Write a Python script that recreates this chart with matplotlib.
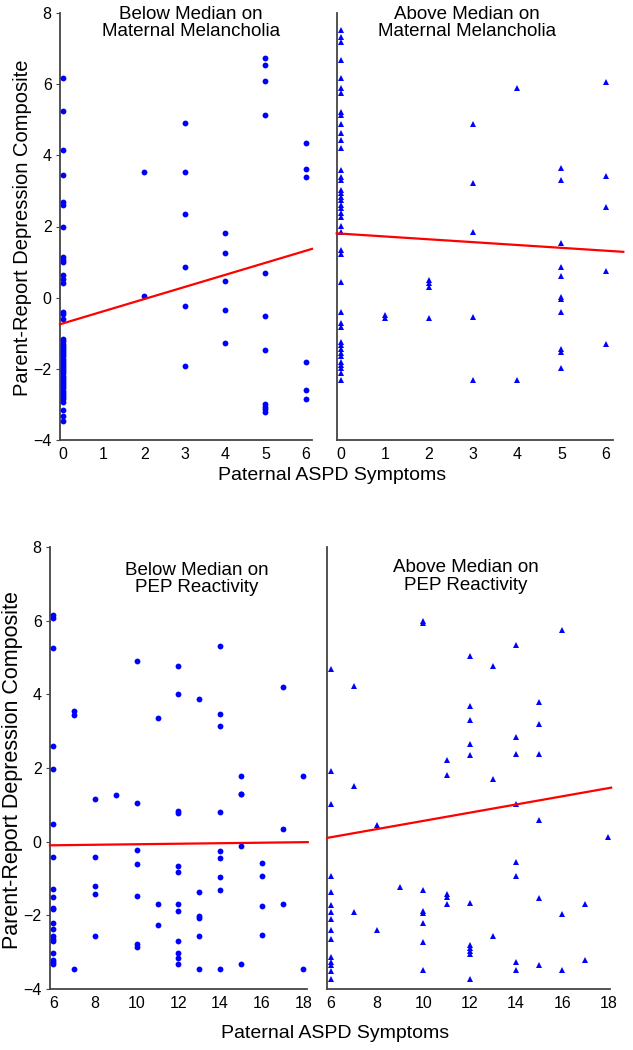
import matplotlib
matplotlib.use("Agg")
import matplotlib.pyplot as plt
import numpy as np

plt.rcParams['font.family'] = ['Liberation Sans', 'DejaVu Sans']

# top row: maternal melancholia split, x = paternal ASPD symptoms (0-6)
mm_lo_x = [0]*49 + [2, 2] + [3]*6 + [4]*5 + [5]*11 + [6]*6
mm_lo_y = [6.18, 5.25, 4.15, 3.45, 2.70, 2.60, 1.99, 1.13, 1.07, 1.01, 0.64, 0.52, 0.40,
           -0.40, -0.45, -0.59,
           -1.17, -1.23, -1.29, -1.35, -1.41, -1.47, -1.53, -1.59, -1.65, -1.71, -1.77,
           -1.83, -1.89, -1.95, -2.01, -2.07, -2.13, -2.19, -2.25, -2.31, -2.37, -2.43,
           -2.49, -2.55, -2.61, -2.67, -2.73, -2.79, -2.85, -2.92,
           -3.16, -3.32, -3.48,
           3.54, 0.05,
           4.91, 3.54, 2.34, 0.87, -0.24, -1.92,
           1.83, 1.25, 0.46, -0.36, -1.28,
           6.73, 6.54, 6.09, 5.13, 0.68, -0.52, -1.48, -3.00, -3.07, -3.14, -3.22,
           4.34, 3.61, 3.38, -1.80, -2.60, -2.85]

mm_hi_x = [0]*42 + [1, 1] + [2]*4 + [3]*5 + [4]*2 + [5]*11 + [6]*5
mm_hi_y = [7.52, 7.32, 7.19, 6.68, 6.16, 5.88, 5.74, 5.23, 5.13, 4.88, 4.64, 4.43, 4.20,
           3.59, 3.40, 3.31, 3.03, 2.93, 2.84, 2.74, 2.60, 2.51, 2.37, 2.27, 2.01, 1.85,
           1.34, 1.23, 0.45, -0.40, -0.72, -0.82, -1.24, -1.33, -1.56, -1.65, -1.80,
           -1.89, -1.98, -2.12, -2.31, -1.45,
           -0.50, -0.58,
           0.50, 0.40, 0.31, -0.58,
           4.88, 3.23, 1.84, -0.55, -2.31,
           5.88, -2.31,
           3.65, 3.31, 1.53, 0.85, 0.61, 0.03, -0.04, -0.41, -1.45, -1.52, -1.97,
           6.07, 3.43, 2.54, 0.76, -1.30]

# bottom row: PEP reactivity split, x = paternal ASPD symptoms (6-18)
pep_lo_x = ([6]*20 + [7]*3 + [8]*5 + [9] + [10]*7 + [11]*3 + [12]*12 + [13]*6
            + [14]*9 + [15]*5 + [16]*4 + [17]*3 + [18]*2)
pep_lo_y = [6.16, 6.07, 5.26, 2.61, 1.98, 0.48, -0.42, -1.28, -1.50, -1.79, -1.83,
            -2.21, -2.37, -2.57, -2.64, -2.69, -3.01, -3.21, -3.27, -3.32,
            3.56, 3.45, -3.46,
            1.15, -0.42, -1.20, -1.41, -2.55,
            1.26,
            4.91, 1.05, -0.22, -0.60, -1.47, -2.78, -2.85,
            3.37, -1.69, -2.25,
            4.76, 4.01, 0.84, 0.78, -0.65, -0.81, -1.69, -1.87, -2.71, -3.01, -3.16, -3.31,
            3.88, -1.38, -2.01, -2.06, -2.55, -3.46,
            5.30, 3.47, 3.13, 0.80, -0.25, -0.45, -0.96, -1.32, -3.46,
            1.77, 1.29, -0.11, -3.31, 1.29,
            -0.59, -0.92, -1.74, -2.53,
            4.19, 0.34, -1.69,
            1.77, -3.46]

pep_hi_x = ([6]*15 + [7]*3 + [8]*2 + [9] + [10]*8 + [11]*5 + [12]*11 + [13]*3
            + [14]*8 + [15]*6 + [16]*3 + [17]*2 + [18])
pep_hi_y = [4.69, 1.93, 1.03, -0.92, -1.37, -1.73, -1.91, -2.09, -2.39, -2.64, -3.14,
            -3.27, -3.36, -3.50, -3.72,
            4.23, 1.50, -1.91,
            0.45, -2.39,
            -1.23,
            6.00, 5.95, -1.31, -1.87, -1.94, -2.21, -2.73, -3.49,
            2.21, 1.82, -1.42, -1.49, -1.69,
            5.05, 3.69, 3.29, 2.66, 2.35, -1.67, -2.80, -2.89, -2.98, -3.04, -3.72,
            4.76, 1.70, -2.55,
            5.35, 2.84, 2.39, 1.03, -0.55, -0.92, -3.27, -3.49,
            3.78, 3.20, 2.39, 0.60, -1.52, -3.36,
            5.75, -1.97, -3.49,
            -1.69, -3.21,
            0.12]

# fitted lines: intercept, slope
fits = {'mm_lo': (-0.72, 0.34), 'mm_hi': (1.80, -0.08),
        'pep_lo': (-0.14, 0.007), 'pep_hi': (-0.545, 0.111)}

titles = ['Below Median on\nMaternal Melancholia', 'Above Median on\nMaternal Melancholia',
          'Below Median on\nPEP Reactivity', 'Above Median on\nPEP Reactivity']

W, H = 633, 1050
fig = plt.figure(figsize=(W/100, H/100), dpi=100)

def box(l, r, t, b):
    return [l/W, 1-b/H, (r-l)/W, (b-t)/H]

ax1 = fig.add_axes(box(60, 312, 13, 440))
ax2 = fig.add_axes(box(336.7, 612.7, 13, 440))
ax3 = fig.add_axes(box(50, 306.7, 547, 989))
ax4 = fig.add_axes(box(327.3, 610, 547, 989))

panels = [(ax1, mm_lo_x, mm_lo_y, 'o', 'mm_lo', (-0.08, 6.15), (-0.08, 6.15), (0.52, 1.017)),
          (ax2, mm_hi_x, mm_hi_y, '^', 'mm_hi', (-0.09, 6.16), (-0.09, 6.4), (0.471, 1.017)),
          (ax3, pep_lo_x, pep_lo_y, 'o', 'pep_lo', (5.84, 18.16), (5.84, 18.21), (0.573, 0.967)),
          (ax4, pep_hi_x, pep_hi_y, '^', 'pep_hi', (5.84, 18.07), (5.84, 18.12), (0.491, 0.972))]

for i, (ax, xs, ys, mk, key, xl, lx, tpos) in enumerate(panels):
    ms = 4.2 if mk == 'o' else 5
    ax.plot(xs, ys, mk, color='#0000ff', ms=ms, mew=0, zorder=3, clip_on=False)
    b0, b1 = fits[key]
    lx = np.array(lx)
    ax.plot(lx, b0 + b1*lx, color='#ff0000', lw=1.6, zorder=4, clip_on=False)
    ax.set_xlim(*xl)
    ax.set_ylim(-4, 8)
    for s in ['top', 'right']:
        ax.spines[s].set_visible(False)
    for s in ['left', 'bottom']:
        ax.spines[s].set_color('#444444')
        ax.spines[s].set_linewidth(1.3)
    if i < 2:
        ax.set_xticks(range(0, 7))
    else:
        ax.set_xticks(range(6, 19, 2))
    ax.set_yticks([-4, -2, 0, 2, 4, 6, 8])
    ax.tick_params(axis='x', length=0, labelsize=11.5, pad=5)
    ax.tick_params(axis='y', length=3, direction='out', labelsize=11.5, pad=3,
                   color='#444444')
    if i % 2 == 1:
        ax.tick_params(axis='y', length=0, labelleft=False)
    ax.text(tpos[0], tpos[1], titles[i], transform=ax.transAxes, ha='center', va='top',
            fontsize=13.5, linespacing=1.05)

fig.text(23/W, 1-228/H, 'Parent-Report Depression Composite', rotation=90,
         ha='center', va='center', fontsize=14.5)
fig.text(13/W, 1-770/H, 'Parent-Report Depression Composite', rotation=90,
         ha='center', va='center', fontsize=15.5)
fig.text(332/W, 1-476/H, 'Paternal ASPD Symptoms', ha='center', va='center', fontsize=14)
fig.text(335/W, 1-1034/H, 'Paternal ASPD Symptoms', ha='center', va='center', fontsize=14)

fig.savefig('out.png', dpi=100)
